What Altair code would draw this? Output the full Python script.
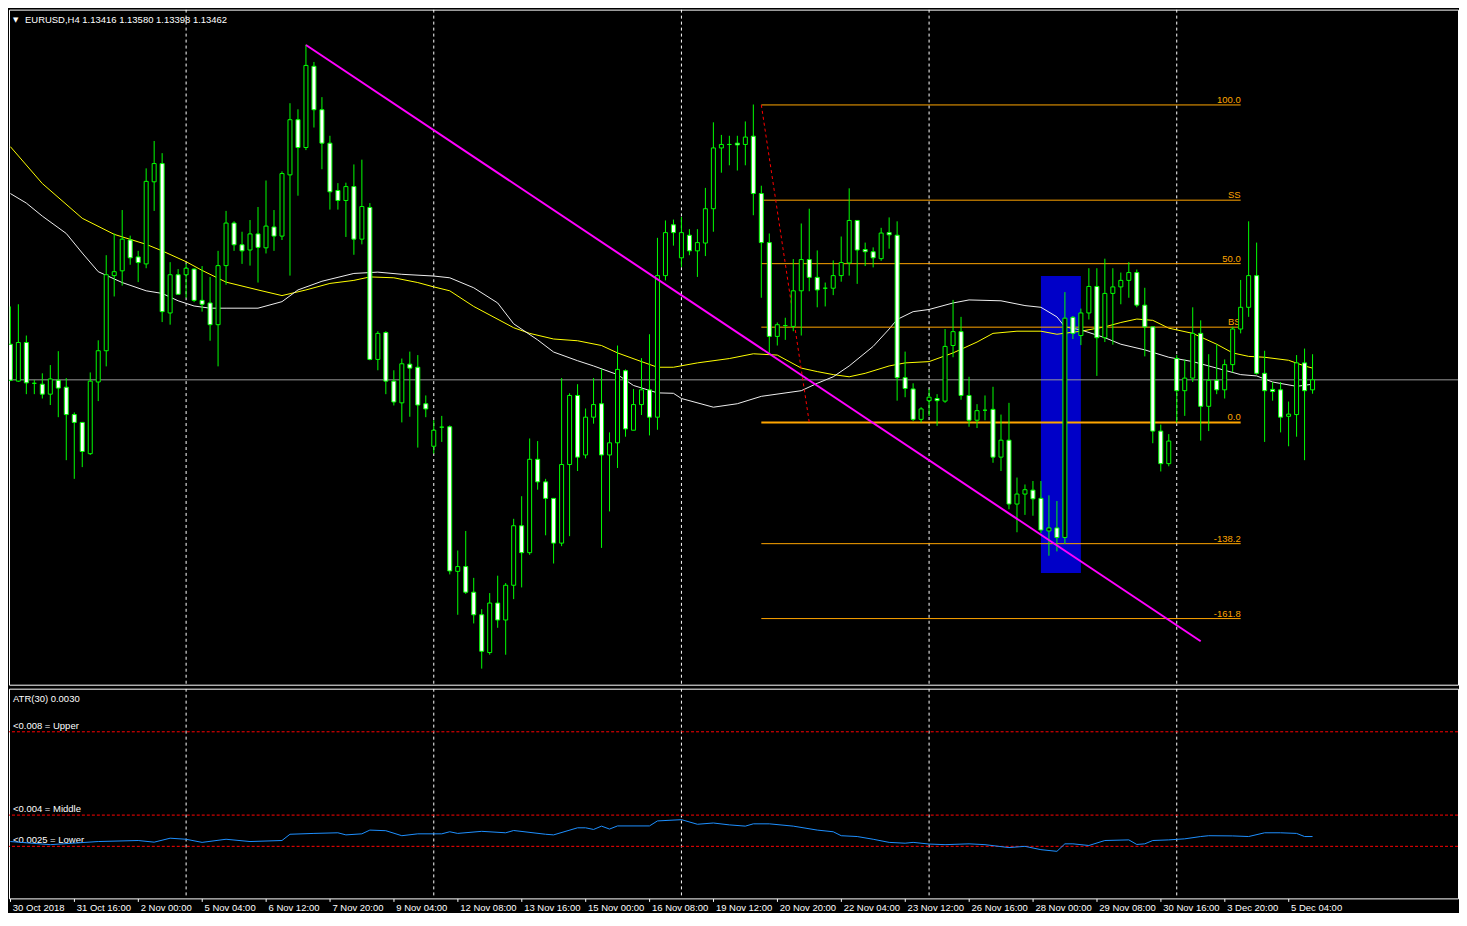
import altair as alt
import pandas as pd

# ---------------- Candle data (EURUSD H4, bar index 0 = 30 Oct 2018 08:00) ----------------
bar_open = [1.13626,1.13456,1.13634,1.13446,1.13442,1.13396,1.1346,1.13428,1.13302,1.13266,
            1.13122,1.13452,1.13596,1.13942,1.13964,1.14106,1.14028,1.13996,1.14374,1.14458,
            1.1377,1.13946,1.13946,1.13972,1.13828,1.13816,1.13716,1.13988,1.14184,1.14084,
            1.1406,1.14134,1.1407,1.14166,1.14124,1.14406,1.1466,1.14532,1.14906,1.14706,
            1.14552,1.14334,1.14288,1.14352,1.1411,1.14256,1.13556,1.1368,1.13456,1.13356,
            1.13534,1.1352,1.13352,1.13156,1.13244,1.13246,1.1258,1.12602,1.12484,1.1238,
            1.12206,1.12434,1.12356,1.12516,1.1279,1.12666,1.13096,1.12992,1.12916,1.1271,
            1.13072,1.1339,1.13116,1.1329,1.13352,1.13116,1.13172,1.13504,1.1323,1.13348,
            1.13416,1.1329,1.13942,1.14176,1.14024,1.14128,1.14056,1.14092,1.1425,1.1453,
            1.14546,1.14552,1.14546,1.14584,1.1432,1.14094,1.13662,1.13712,1.13708,1.13872,
            1.14016,1.13934,1.13884,1.13884,1.13942,1.14,1.14196,1.14062,1.14052,1.1402,
            1.1414,1.14128,1.13472,1.1342,1.1328,1.13366,1.13376,1.13364,1.1362,1.13684,
            1.1339,1.13276,1.13322,1.13326,1.13106,1.13184,1.1289,1.12936,1.12954,1.12916,
            1.12766,1.1278,1.12736,1.1375,1.13666,1.1377,1.13892,1.13656,1.1386,1.1389,
            1.1392,1.13956,1.13806,1.13706,1.13226,1.13076,1.1356,1.13412,1.1347,1.13676,
            1.1334,1.1346,1.13416,1.13532,1.13696,1.13796,1.13942,1.13492,1.13418,1.13416,
            1.13294,1.13302,1.1354,1.13416]
bar_high = [1.1380,1.1381,1.13666,1.13462,1.13492,1.1353,1.13594,1.1347,1.13312,1.13266,
            1.13496,1.13644,1.14036,1.14136,1.14244,1.14126,1.14056,1.14436,1.14562,1.14506,
            1.14004,1.13972,1.13996,1.13976,1.13986,1.13936,1.14056,1.1424,1.14192,1.14144,
            1.14198,1.14258,1.1438,1.14244,1.14422,1.14736,1.14708,1.15006,1.14926,1.14764,
            1.14586,1.14368,1.1437,1.14454,1.14476,1.14276,1.13686,1.13686,1.13506,1.1356,
            1.13592,1.13576,1.1339,1.13276,1.13296,1.13252,1.12676,1.12766,1.1255,1.12406,
            1.1248,1.1256,1.12526,1.12822,1.12926,1.13192,1.1318,1.13006,1.12916,1.1347,
            1.134,1.13442,1.1333,1.1347,1.13512,1.1322,1.1362,1.1351,1.1342,1.13562,
            1.13672,1.14116,1.14196,1.142,1.14212,1.14156,1.14156,1.14346,1.14648,1.1459,
            1.14586,1.14586,1.14652,1.1473,1.14356,1.14136,1.13726,1.13748,1.14018,1.14182,
            1.1425,1.14058,1.1391,1.14012,1.14122,1.14344,1.14196,1.14094,1.14072,1.14162,
            1.1421,1.14192,1.13592,1.13446,1.13336,1.1342,1.13396,1.13696,1.1383,1.13752,
            1.13476,1.1335,1.1339,1.1343,1.13302,1.13356,1.13012,1.1298,1.12996,1.12996,
            1.1293,1.12904,1.13866,1.13756,1.1379,1.13976,1.13976,1.1402,1.13976,1.13956,
            1.14004,1.1397,1.13886,1.13706,1.13256,1.13212,1.13576,1.13556,1.13796,1.13736,
            1.1358,1.13626,1.13556,1.13706,1.13922,1.14192,1.14094,1.13596,1.13452,1.13452,
            1.13362,1.13576,1.13606,1.1358]
bar_low = [1.13456,1.13452,1.13396,1.13396,1.13376,1.13346,1.1329,1.13092,1.13006,1.1306,
           1.13116,1.13364,1.13524,1.13846,1.13896,1.13992,1.13912,1.13976,1.1424,1.13728,
           1.13716,1.13856,1.1384,1.1382,1.13776,1.13642,1.13524,1.139,1.14056,1.13996,
           1.13988,1.1391,1.14044,1.14056,1.14106,1.13942,1.1431,1.1452,1.14624,1.14432,
           1.14246,1.14246,1.1412,1.14038,1.14086,1.13552,1.13506,1.13396,1.13344,1.13266,
           1.13292,1.1315,1.1329,1.13122,1.13176,1.12566,1.1238,1.12476,1.1234,1.12132,
           1.12196,1.1232,1.12196,1.12452,1.12506,1.12656,1.12956,1.12746,1.12616,1.12696,
           1.12742,1.13042,1.131,1.1326,1.12688,1.12856,1.13056,1.132,1.1323,1.133,
           1.13206,1.13232,1.1392,1.1408,1.13982,1.14036,1.13936,1.14032,1.14144,1.14416,
           1.1445,1.14426,1.1445,1.1422,1.1384,1.13586,1.1362,1.13646,1.13686,1.13666,
           1.1387,1.13796,1.138,1.13852,1.13914,1.13942,1.13904,1.13986,1.1398,1.1401,
           1.14066,1.13366,1.13382,1.13272,1.13266,1.13296,1.1325,1.13356,1.13566,1.1337,
           1.13246,1.1324,1.13276,1.1308,1.13042,1.12866,1.1276,1.1284,1.12836,1.12756,
           1.12652,1.12672,1.12706,1.1365,1.13622,1.1374,1.1348,1.13636,1.13624,1.1381,
           1.1384,1.13796,1.1357,1.1317,1.1304,1.13064,1.13266,1.13296,1.13452,1.13182,
           1.13226,1.13396,1.13376,1.13496,1.13676,1.13752,1.13486,1.13176,1.13366,1.1322,
           1.13156,1.132,1.13092,1.13398]
bar_close = [1.1346,1.13634,1.13448,1.13446,1.13396,1.13466,1.13424,1.13302,1.13266,1.13132,
             1.13456,1.13596,1.13946,1.1396,1.1411,1.14024,1.14002,1.14376,1.14458,1.13776,
             1.13946,1.13856,1.13976,1.13828,1.1381,1.13716,1.13988,1.14184,1.14084,1.14056,
             1.14134,1.14072,1.1417,1.14124,1.14412,1.1466,1.14532,1.1491,1.14706,1.14552,
             1.14328,1.14288,1.14352,1.1411,1.1426,1.13556,1.13676,1.13456,1.1336,1.13536,
             1.13516,1.13346,1.13328,1.1323,1.13244,1.12582,1.12602,1.12484,1.1238,1.12212,
             1.12434,1.12356,1.12516,1.1279,1.12666,1.13096,1.12992,1.12916,1.1271,1.13072,
             1.1339,1.13106,1.1329,1.13348,1.13116,1.13172,1.1351,1.13236,1.13348,1.13416,
             1.1329,1.13942,1.1414,1.1414,1.1414,1.14056,1.14094,1.1425,1.1453,1.14546,
             1.14546,1.14544,1.1458,1.1432,1.14094,1.13662,1.13716,1.13712,1.13872,1.14016,
             1.13934,1.13876,1.13884,1.13942,1.14002,1.14196,1.1406,1.14052,1.14024,1.14138,
             1.1413,1.13472,1.13422,1.1328,1.13328,1.13382,1.13366,1.13616,1.13684,1.1339,
             1.13276,1.1332,1.13322,1.13106,1.13184,1.1289,1.12936,1.12956,1.12914,1.1277,
             1.1278,1.12736,1.13746,1.13676,1.1377,1.13892,1.13656,1.1386,1.1389,1.1392,
             1.13956,1.13806,1.13706,1.13226,1.13076,1.1318,1.13412,1.1347,1.13676,1.1334,
             1.1346,1.13416,1.13532,1.13696,1.13796,1.13942,1.13492,1.13412,1.13408,1.1329,
             1.13304,1.1354,1.13412,1.13462]

# ---------------- Moving averages ----------------
yellow_bar = [0,4,9,13,17,19,22,24,27,31,34,37,40,43,45,48,51,53,55,58,63,65,68,71,74,76,79,81,83,86,
              90,93,96,99,101,103,105,107,110,112,115,118,121,123,126,129,131,134,137,139,141,143,145,
              148,151,153,155,157,160,162,163]
yellow_val = [1.14536,1.14366,1.14206,1.14132,1.14086,1.14056,1.14006,1.13966,1.13912,1.13876,
              1.1385,1.13876,1.13906,1.1392,1.13936,1.13932,1.1391,1.1389,1.13872,1.138,
              1.13702,1.13676,1.1365,1.13642,1.1362,1.13586,1.13546,1.1352,1.1352,1.1354,
              1.1356,1.13582,1.13576,1.13516,1.135,1.13486,1.13476,1.13492,1.13526,1.1354,
              1.13546,1.13586,1.13636,1.13676,1.13686,1.13686,1.13672,1.13686,1.13706,1.13726,
              1.13742,1.13736,1.137,1.13676,1.13626,1.13586,1.1357,1.13566,1.13552,1.13526,1.13516]
white_bar = [0,2,4,7,9,11,14,17,19,21,23,25,27,31,34,36,39,43,46,49,53,55,58,61,63,66,68,71,73,76,
             78,81,83,84,88,91,94,99,101,103,105,108,110,111,113,115,118,120,124,127,129,131,132,134,
             137,139,142,145,148,151,154,156,158,161,163]
white_val = [1.1432,1.14276,1.14216,1.14136,1.14046,1.1396,1.1391,1.13872,1.1386,1.13826,
             1.13802,1.13792,1.13792,1.13792,1.13822,1.13876,1.13916,1.13952,1.13958,1.13948,
             1.1394,1.13932,1.13886,1.13816,1.1372,1.13646,1.1359,1.1355,1.13526,1.13486,
             1.13436,1.13402,1.134,1.13376,1.13336,1.13352,1.13386,1.13412,1.13446,1.13476,
             1.13526,1.13616,1.13696,1.1374,1.13776,1.13786,1.13816,1.1383,1.13826,1.13804,
             1.13796,1.13752,1.13706,1.13692,1.13656,1.13626,1.136,1.13566,1.13546,1.13516,
             1.13486,1.1348,1.13452,1.13432,1.13442]

# ---------------- ATR(30) ----------------
atr_bar = [0,5,11,16,18,20,22,24,27,30,34,35,38,41,42,44,45,47,49,51,54,55,56,59,62,63,67,68,71,72,
           73,74,75,76,80,81,84,86,88,90,92,93,95,98,101,103,104,106,108,110,112,113,115,117,120,122,
           125,127,129,131,132,133,135,137,140,141,142,143,145,147,149,150,153,155,157,159,161,162,163]
atr_val = [0.00273,0.00258,0.00273,0.00278,0.0027,0.00289,0.00284,0.00269,0.00284,0.00273,
           0.00278,0.00308,0.00312,0.00315,0.00305,0.0031,0.00328,0.00325,0.00301,0.0031,
           0.0031,0.0032,0.00312,0.00322,0.00315,0.00326,0.00308,0.00305,0.00339,0.00339,
           0.00331,0.00347,0.00333,0.00348,0.00348,0.00372,0.00378,0.00356,0.00362,0.00353,
           0.00347,0.00358,0.00358,0.00347,0.00328,0.0032,0.00301,0.00297,0.00284,0.00269,
           0.00265,0.00269,0.00261,0.00258,0.00262,0.00258,0.00244,0.0025,0.00234,0.00226,
           0.00262,0.00262,0.00254,0.00278,0.00281,0.00259,0.00262,0.00278,0.00281,0.00286,
           0.00297,0.00301,0.003,0.00297,0.00315,0.00315,0.00312,0.00297,0.00297]
atr_levels = [0.008, 0.004, 0.0025]
atr_level_names = ["<0.008 = Upper", "<0.004 = Middle", "<0.0025 = Lower"]

# ---------------- Objects ----------------
fib_start_bar, fib_end_bar = 94, 154
fib_high, fib_low = 1.14728, 1.13266
fib_levels = [100.0, 70.0, 50.0, 30.0, 0.0, -38.2, -61.8]
fib_names = ["100.0", "SS", "50.0", "BS", "0.0", "-138.2", "-161.8"]
fib_anchor_bar = [94, 100]
fib_anchor_price = [1.14728, 1.13266]
trend_bar = [37, 149]
trend_price = [1.15004, 1.12258]
box_bar = [129, 134]
box_price = [1.12572, 1.1394]
separator_bars = [22, 53, 84, 115, 146]
tick_bars = [0, 8, 16, 24, 32, 40, 48, 56, 64, 72, 80, 88, 96, 104, 112, 120, 128, 136, 144, 152, 160]
tick_labels = ["30 Oct 2018", "31 Oct 16:00", "2 Nov 00:00", "5 Nov 04:00", "6 Nov 12:00",
               "7 Nov 20:00", "9 Nov 04:00", "12 Nov 08:00", "13 Nov 16:00", "15 Nov 00:00",
               "16 Nov 08:00", "19 Nov 12:00", "20 Nov 20:00", "22 Nov 04:00", "23 Nov 12:00",
               "26 Nov 16:00", "28 Nov 00:00", "29 Nov 08:00", "30 Nov 16:00", "3 Dec 20:00",
               "5 Dec 04:00"]

# ---------------- Build tables ----------------
n = len(bar_open)
candles = pd.DataFrame({"bar": list(range(n)), "open": bar_open, "high": bar_high,
                        "low": bar_low, "close": bar_close})
candles["kind"] = ["bull" if c > o else "bear" for o, c in zip(bar_open, bar_close)]
yellow = pd.DataFrame({"bar": yellow_bar, "price": yellow_val})
white = pd.DataFrame({"bar": white_bar, "price": white_val})
atr = pd.DataFrame({"bar": atr_bar, "atr": atr_val})
fib = pd.DataFrame({"level": fib_levels, "name": fib_names,
                    "price": [fib_low + lv / 100.0 * (fib_high - fib_low) for lv in fib_levels],
                    "start": fib_start_bar, "end": fib_end_bar})
fib_anchor = pd.DataFrame({"bar": fib_anchor_bar, "price": fib_anchor_price})
trend = pd.DataFrame({"bar": trend_bar, "price": trend_price})
box = pd.DataFrame({"b1": [box_bar[0]], "b2": [box_bar[1]], "p1": [box_price[0]], "p2": [box_price[1]]})
seps = pd.DataFrame({"bar": separator_bars})
bid = pd.DataFrame({"price": [bar_close[-1]]})
levels = pd.DataFrame({"atr": atr_levels, "name": atr_level_names})
header = pd.DataFrame({"t": ["EURUSD,H4  %.5f %.5f %.5f %.5f" % (bar_open[-1], bar_high[-1], bar_low[-1], bar_close[-1])]})
atr_head = pd.DataFrame({"t": ["ATR(30) %.4f" % atr_val[-1]]})

FONT = "Liberation Sans"
W = 1451
xs = alt.Scale(domain=[-0.17, -0.17 + W / 8.0], nice=False, zero=False, padding=0)
ys = alt.Scale(domain=[1.12058, 1.15167], nice=False, zero=False, padding=0)
X = lambda f: alt.X(f, type="quantitative", scale=xs, axis=None)
Y = lambda f: alt.Y(f, type="quantitative", scale=ys, axis=None)

sep_layer = alt.Chart(seps).mark_rule(color="#FFFFFF", strokeDash=[3, 3], strokeWidth=1, clip=True).encode(x=X("bar"))
box_layer = alt.Chart(box).mark_rect(color="#0000C8", clip=True).encode(x=X("b1"), x2="b2", y=Y("p1"), y2="p2")
bid_layer = alt.Chart(bid).mark_rule(color="#9A9A9A", strokeWidth=1, clip=True).encode(y=Y("price"))
yellow_layer = alt.Chart(yellow).mark_line(color="#FFFF00", strokeWidth=1, clip=True).encode(x=X("bar"), y=Y("price"))
white_layer = alt.Chart(white).mark_line(color="#EEEEEE", strokeWidth=1, clip=True).encode(x=X("bar"), y=Y("price"))
fib_lines = alt.Chart(fib).mark_rule(color="#FFA500", clip=True).encode(
    x=X("start"), x2="end", y=Y("price"),
    strokeWidth=alt.condition(alt.datum.level == 0, alt.value(2), alt.value(1)))
fib_text = alt.Chart(fib).mark_text(align="right", baseline="alphabetic", dy=-2, color="#FFA500",
                                    font=FONT, fontSize=9.5, clip=True).encode(
    x=X("end"), y=Y("price"), text="name:N")
anchor_layer = alt.Chart(fib_anchor).mark_line(color="#FF0000", strokeDash=[3, 3], strokeWidth=1, clip=True).encode(
    x=X("bar"), y=Y("price"))
wick_layer = alt.Chart(candles).mark_rule(color="#00FF00", strokeWidth=1, clip=True).encode(
    x=X("bar"), y=Y("low"), y2="high")
body_layer = alt.Chart(candles).mark_bar(size=4, stroke="#00FF00", strokeWidth=1, clip=True).encode(
    x=X("bar"), y=Y("open"), y2="close",
    fill=alt.Fill("kind:N", scale=alt.Scale(domain=["bear", "bull"], range=["#FFFFFF", "#000000"]), legend=None))
trend_layer = alt.Chart(trend).mark_line(color="#FF00FF", strokeWidth=2, clip=True).encode(x=X("bar"), y=Y("price"))
arrow_layer = alt.Chart(header).mark_text(text="▼", font="DejaVu Sans", fontSize=7, color="#FFFFFF",
                                          align="left", baseline="middle").encode(
    x=alt.value(4), y=alt.value(10))
header_layer = alt.Chart(header).mark_text(font=FONT, fontSize=9.5, color="#FFFFFF",
                                           align="left", baseline="middle").encode(
    x=alt.value(16), y=alt.value(10), text="t:N")

main = alt.layer(sep_layer, box_layer, bid_layer, yellow_layer, white_layer, fib_lines, fib_text,
                 anchor_layer, wick_layer, body_layer, trend_layer, arrow_layer, header_layer).properties(
    width=W, height=676)

ays = alt.Scale(domain=[0, 0.01007], nice=False, zero=False, padding=0)
labels_js = "[" + ",".join("'%s'" % s for s in tick_labels) + "]"
bars_js = "[" + ",".join(str(b) for b in tick_bars) + "]"
x_axis = alt.Axis(values=tick_bars, labelExpr="%s[indexof(%s, datum.value)]" % (labels_js, bars_js),
                  labelAlign="left", labelOffset=2, labelColor="#FFFFFF", labelFont=FONT, labelFontSize=9.5,
                  labelPadding=1, labelOverlap=False, labelBound=False, labelFlush=False,
                  tickColor="#FFFFFF", tickSize=3, domain=False, grid=False, title=None)

a_sep = alt.Chart(seps).mark_rule(color="#FFFFFF", strokeDash=[3, 3], strokeWidth=1, clip=True).encode(
    x=alt.X("bar:Q", scale=xs, axis=x_axis))
a_levels = alt.Chart(levels).mark_rule(color="#FF0000", strokeDash=[3, 2], strokeWidth=1, clip=True).encode(
    y=alt.Y("atr:Q", scale=ays, axis=None))
a_level_text = alt.Chart(levels).mark_text(align="left", baseline="alphabetic", dy=-3, color="#FFFFFF",
                                           font=FONT, fontSize=9.5).encode(
    x=alt.value(4), y=alt.Y("atr:Q", scale=ays, axis=None), text="name:N")
a_line = alt.Chart(atr).mark_line(color="#1E90FF", strokeWidth=1, clip=True).encode(
    x=alt.X("bar:Q", scale=xs, axis=x_axis), y=alt.Y("atr:Q", scale=ays, axis=None))
a_head = alt.Chart(atr_head).mark_text(align="left", baseline="middle", color="#FFFFFF",
                                       font=FONT, fontSize=9.5).encode(
    x=alt.value(4), y=alt.value(10), text="t:N")

atr_panel = alt.layer(a_sep, a_levels, a_level_text, a_line, a_head).properties(width=W, height=210)

chart = alt.vconcat(main, atr_panel, spacing=2).properties(
    background="#000000", padding=0
).configure_view(stroke="#FFFFFF", strokeWidth=1)

chart.save("out.html", embed_options={"renderer": "svg", "actions": False})
